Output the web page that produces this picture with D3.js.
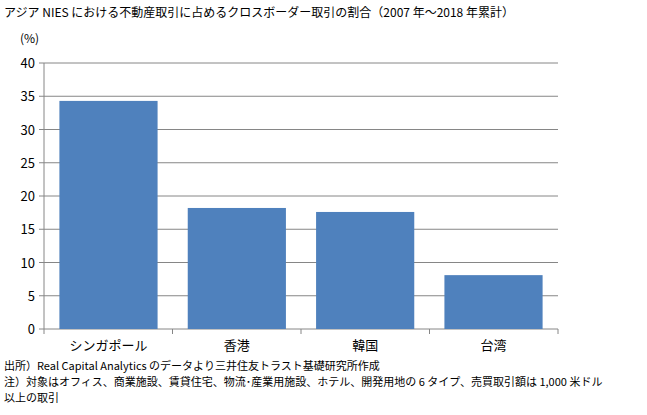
<!DOCTYPE html><html><head><meta charset="utf-8"><script src="https://cdn.jsdelivr.net/npm/d3@7"></script>
<style>body{margin:0;background:#fff}text{font-family:"Noto Sans CJK JP",sans-serif;fill:#000}</style></head><body>
<svg id="c" width="647" height="415"></svg>
<script>
const categories=["シンガポール","香港","韓国","台湾"];
const values=[34.3,18.2,17.6,8.1];
const yTicks=[0,5,10,15,20,25,30,35,40];
const title="アジア NIES における不動産取引に占めるクロスボーダー取引の割合（2007 年～2018 年累計）";
const notes=["出所）Real Capital Analytics のデータより三井住友トラスト基礎研究所作成","注）対象はオフィス、商業施設、賃貸住宅、物流･産業用施設、ホテル、開発用地の 6 タイプ、売買取引額は 1,000 米ドル","以上の取引"];
const svg=d3.select("#c");
const L=44,R=558,T=63,B=329;
const x=d3.scaleBand().domain(categories).range([L,R]).paddingInner(0.235).paddingOuter(0.12);
const y=d3.scaleLinear().domain([0,40]).range([B,T]);
svg.append("text").attr("x",4).attr("y",17).attr("font-size",12).text(title);
svg.append("text").attr("x",20).attr("y",43).attr("font-size",12).text("(%)");
svg.append("g").selectAll("line").data(yTicks).join("line").attr("x1",L-5).attr("x2",R).attr("y1",d=>y(d)).attr("y2",d=>y(d)).attr("stroke","#868686");
svg.append("line").attr("x1",L).attr("x2",L).attr("y1",T).attr("y2",B).attr("stroke","#868686");
svg.append("g").selectAll("text").data(yTicks).join("text").attr("x",L-9).attr("y",d=>y(d)+5).attr("text-anchor","end").attr("font-size",13).attr("font-family","Liberation Sans, Arial").text(d=>d);
svg.append("g").selectAll("rect").data(values).join("rect").attr("x",(d,i)=>x(categories[i])).attr("width",x.bandwidth()).attr("y",d=>y(d)).attr("height",d=>B-y(d)).attr("fill","#4f81bd");
svg.append("g").selectAll("line").data(d3.range(5)).join("line").attr("x1",(d,i)=>L+i*(R-L)/4).attr("x2",(d,i)=>L+i*(R-L)/4).attr("y1",B).attr("y2",B+5).attr("stroke","#868686");
svg.append("g").selectAll("text").data(categories).join("text").attr("x",d=>x(d)+x.bandwidth()/2).attr("y",350).attr("text-anchor","middle").attr("font-size",13).text(d=>d);
svg.append("g").selectAll("text").data(notes).join("text").attr("x",4).attr("y",(d,i)=>370+i*16).attr("font-size",11).text(d=>d);
</script></body></html>
